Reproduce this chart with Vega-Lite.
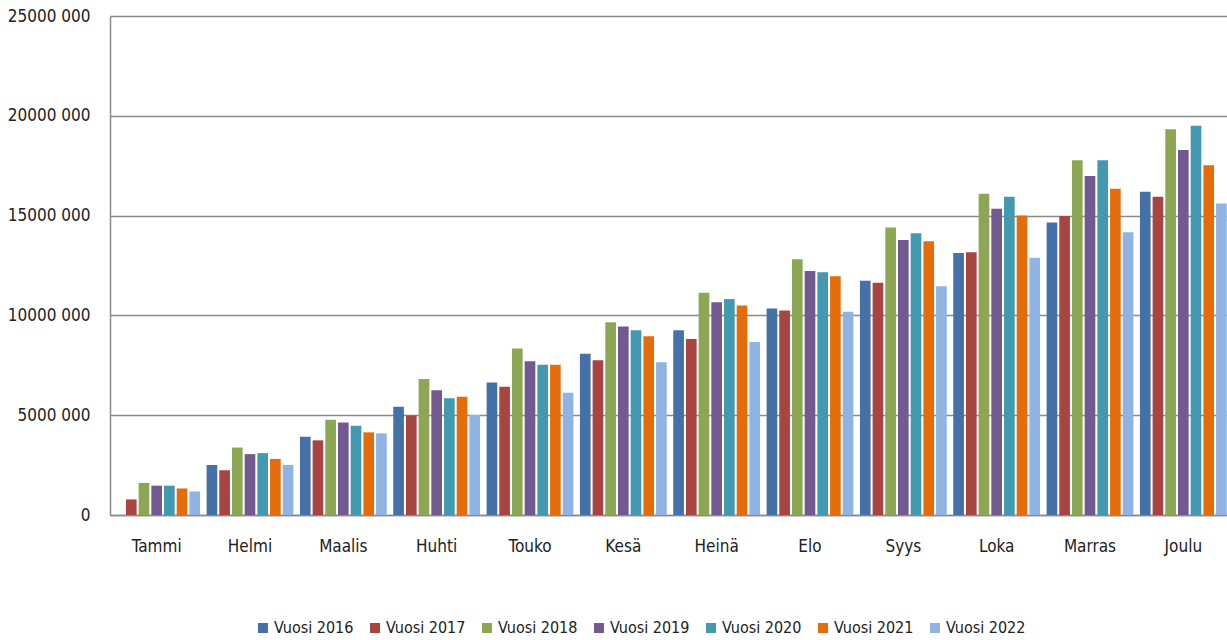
{
  "$schema": "https://vega.github.io/schema/vega-lite/v6.json",
  "autosize": {"type": "none"},
  "padding": {"left": 110, "top": 16, "right": 0, "bottom": 125},
  "width": 1120,
  "height": 499,
  "background": "white",
  "config": {
    "font": "Liberation Sans Narrow, DejaVu Sans Condensed, sans-serif",
    "view": {"stroke": null}
  },
  "data": {
    "values": [
      {"kk": "Tammi", "vuosi": "Vuosi 2017", "arvo": 780000},
      {"kk": "Tammi", "vuosi": "Vuosi 2018", "arvo": 1610000},
      {"kk": "Tammi", "vuosi": "Vuosi 2019", "arvo": 1470000},
      {"kk": "Tammi", "vuosi": "Vuosi 2020", "arvo": 1470000},
      {"kk": "Tammi", "vuosi": "Vuosi 2021", "arvo": 1330000},
      {"kk": "Tammi", "vuosi": "Vuosi 2022", "arvo": 1180000},
      {"kk": "Helmi", "vuosi": "Vuosi 2016", "arvo": 2510000},
      {"kk": "Helmi", "vuosi": "Vuosi 2017", "arvo": 2240000},
      {"kk": "Helmi", "vuosi": "Vuosi 2018", "arvo": 3380000},
      {"kk": "Helmi", "vuosi": "Vuosi 2019", "arvo": 3050000},
      {"kk": "Helmi", "vuosi": "Vuosi 2020", "arvo": 3100000},
      {"kk": "Helmi", "vuosi": "Vuosi 2021", "arvo": 2810000},
      {"kk": "Helmi", "vuosi": "Vuosi 2022", "arvo": 2510000},
      {"kk": "Maalis", "vuosi": "Vuosi 2016", "arvo": 3920000},
      {"kk": "Maalis", "vuosi": "Vuosi 2017", "arvo": 3740000},
      {"kk": "Maalis", "vuosi": "Vuosi 2018", "arvo": 4770000},
      {"kk": "Maalis", "vuosi": "Vuosi 2019", "arvo": 4630000},
      {"kk": "Maalis", "vuosi": "Vuosi 2020", "arvo": 4470000},
      {"kk": "Maalis", "vuosi": "Vuosi 2021", "arvo": 4140000},
      {"kk": "Maalis", "vuosi": "Vuosi 2022", "arvo": 4090000},
      {"kk": "Huhti", "vuosi": "Vuosi 2016", "arvo": 5420000},
      {"kk": "Huhti", "vuosi": "Vuosi 2017", "arvo": 4990000},
      {"kk": "Huhti", "vuosi": "Vuosi 2018", "arvo": 6810000},
      {"kk": "Huhti", "vuosi": "Vuosi 2019", "arvo": 6250000},
      {"kk": "Huhti", "vuosi": "Vuosi 2020", "arvo": 5850000},
      {"kk": "Huhti", "vuosi": "Vuosi 2021", "arvo": 5920000},
      {"kk": "Huhti", "vuosi": "Vuosi 2022", "arvo": 5010000},
      {"kk": "Touko", "vuosi": "Vuosi 2016", "arvo": 6640000},
      {"kk": "Touko", "vuosi": "Vuosi 2017", "arvo": 6420000},
      {"kk": "Touko", "vuosi": "Vuosi 2018", "arvo": 8340000},
      {"kk": "Touko", "vuosi": "Vuosi 2019", "arvo": 7700000},
      {"kk": "Touko", "vuosi": "Vuosi 2020", "arvo": 7530000},
      {"kk": "Touko", "vuosi": "Vuosi 2021", "arvo": 7530000},
      {"kk": "Touko", "vuosi": "Vuosi 2022", "arvo": 6120000},
      {"kk": "Kesä", "vuosi": "Vuosi 2016", "arvo": 8080000},
      {"kk": "Kesä", "vuosi": "Vuosi 2017", "arvo": 7750000},
      {"kk": "Kesä", "vuosi": "Vuosi 2018", "arvo": 9660000},
      {"kk": "Kesä", "vuosi": "Vuosi 2019", "arvo": 9450000},
      {"kk": "Kesä", "vuosi": "Vuosi 2020", "arvo": 9260000},
      {"kk": "Kesä", "vuosi": "Vuosi 2021", "arvo": 8960000},
      {"kk": "Kesä", "vuosi": "Vuosi 2022", "arvo": 7650000},
      {"kk": "Heinä", "vuosi": "Vuosi 2016", "arvo": 9260000},
      {"kk": "Heinä", "vuosi": "Vuosi 2017", "arvo": 8820000},
      {"kk": "Heinä", "vuosi": "Vuosi 2018", "arvo": 11130000},
      {"kk": "Heinä", "vuosi": "Vuosi 2019", "arvo": 10660000},
      {"kk": "Heinä", "vuosi": "Vuosi 2020", "arvo": 10820000},
      {"kk": "Heinä", "vuosi": "Vuosi 2021", "arvo": 10490000},
      {"kk": "Heinä", "vuosi": "Vuosi 2022", "arvo": 8670000},
      {"kk": "Elo", "vuosi": "Vuosi 2016", "arvo": 10350000},
      {"kk": "Elo", "vuosi": "Vuosi 2017", "arvo": 10240000},
      {"kk": "Elo", "vuosi": "Vuosi 2018", "arvo": 12810000},
      {"kk": "Elo", "vuosi": "Vuosi 2019", "arvo": 12220000},
      {"kk": "Elo", "vuosi": "Vuosi 2020", "arvo": 12160000},
      {"kk": "Elo", "vuosi": "Vuosi 2021", "arvo": 11960000},
      {"kk": "Elo", "vuosi": "Vuosi 2022", "arvo": 10180000},
      {"kk": "Syys", "vuosi": "Vuosi 2016", "arvo": 11740000},
      {"kk": "Syys", "vuosi": "Vuosi 2017", "arvo": 11630000},
      {"kk": "Syys", "vuosi": "Vuosi 2018", "arvo": 14410000},
      {"kk": "Syys", "vuosi": "Vuosi 2019", "arvo": 13780000},
      {"kk": "Syys", "vuosi": "Vuosi 2020", "arvo": 14110000},
      {"kk": "Syys", "vuosi": "Vuosi 2021", "arvo": 13720000},
      {"kk": "Syys", "vuosi": "Vuosi 2022", "arvo": 11460000},
      {"kk": "Loka", "vuosi": "Vuosi 2016", "arvo": 13120000},
      {"kk": "Loka", "vuosi": "Vuosi 2017", "arvo": 13170000},
      {"kk": "Loka", "vuosi": "Vuosi 2018", "arvo": 16090000},
      {"kk": "Loka", "vuosi": "Vuosi 2019", "arvo": 15340000},
      {"kk": "Loka", "vuosi": "Vuosi 2020", "arvo": 15940000},
      {"kk": "Loka", "vuosi": "Vuosi 2021", "arvo": 15000000},
      {"kk": "Loka", "vuosi": "Vuosi 2022", "arvo": 12890000},
      {"kk": "Marras", "vuosi": "Vuosi 2016", "arvo": 14650000},
      {"kk": "Marras", "vuosi": "Vuosi 2017", "arvo": 14980000},
      {"kk": "Marras", "vuosi": "Vuosi 2018", "arvo": 17770000},
      {"kk": "Marras", "vuosi": "Vuosi 2019", "arvo": 16980000},
      {"kk": "Marras", "vuosi": "Vuosi 2020", "arvo": 17770000},
      {"kk": "Marras", "vuosi": "Vuosi 2021", "arvo": 16340000},
      {"kk": "Marras", "vuosi": "Vuosi 2022", "arvo": 14160000},
      {"kk": "Joulu", "vuosi": "Vuosi 2016", "arvo": 16190000},
      {"kk": "Joulu", "vuosi": "Vuosi 2017", "arvo": 15940000},
      {"kk": "Joulu", "vuosi": "Vuosi 2018", "arvo": 19330000},
      {"kk": "Joulu", "vuosi": "Vuosi 2019", "arvo": 18290000},
      {"kk": "Joulu", "vuosi": "Vuosi 2020", "arvo": 19500000},
      {"kk": "Joulu", "vuosi": "Vuosi 2021", "arvo": 17520000},
      {"kk": "Joulu", "vuosi": "Vuosi 2022", "arvo": 15600000}
    ]
  },
  "mark": {"type": "bar"},
  "encoding": {
    "x": {
      "field": "kk",
      "type": "nominal",
      "sort": ["Tammi", "Helmi", "Maalis", "Huhti", "Touko", "Kesä", "Heinä", "Elo", "Syys", "Loka", "Marras", "Joulu"],
      "scale": {"paddingInner": 0.07, "paddingOuter": 0.035},
      "axis": {
        "title": null,
        "labelAngle": 0,
        "labelFontSize": 17,
        "labelColor": "#222222",
        "labelPadding": 23,
        "ticks": false,
        "domainColor": "#8a8a8a",
        "domainWidth": 1.5,
        "grid": false
      }
    },
    "xOffset": {
      "field": "vuosi",
      "type": "nominal",
      "scale": {"paddingInner": 0.16, "paddingOuter": 0}
    },
    "y": {
      "field": "arvo",
      "type": "quantitative",
      "scale": {"domain": [0, 25000000], "nice": false},
      "axis": {
        "title": null,
        "values": [0, 5000000, 10000000, 15000000, 20000000, 25000000],
        "labelExpr": "datum.value == 0 ? '0' : (datum.value / 1000) + ' 000'",
        "labelFontSize": 17,
        "labelColor": "#222222",
        "labelPadding": 20,
        "ticks": false,
        "domainColor": "#8a8a8a",
        "domainWidth": 1.5,
        "gridColor": "#8a8a8a",
        "gridWidth": 1.5
      }
    },
    "color": {
      "field": "vuosi",
      "type": "nominal",
      "scale": {
        "domain": ["Vuosi 2016", "Vuosi 2017", "Vuosi 2018", "Vuosi 2019", "Vuosi 2020", "Vuosi 2021", "Vuosi 2022"],
        "range": ["#4472A8", "#A84442", "#8BA753", "#725A91", "#4399B0", "#E46C0A", "#8FB4E3"]
      },
      "legend": {
        "title": null,
        "orient": "none",
        "legendX": 145,
        "legendY": 604,
        "direction": "horizontal",
        "columns": 7,
        "symbolType": "square",
        "symbolSize": 100,
        "symbolStrokeWidth": 0,
        "labelFontSize": 16,
        "labelColor": "#222222",
        "labelOffset": 3,
        "columnPadding": 13
      }
    }
  }
}
